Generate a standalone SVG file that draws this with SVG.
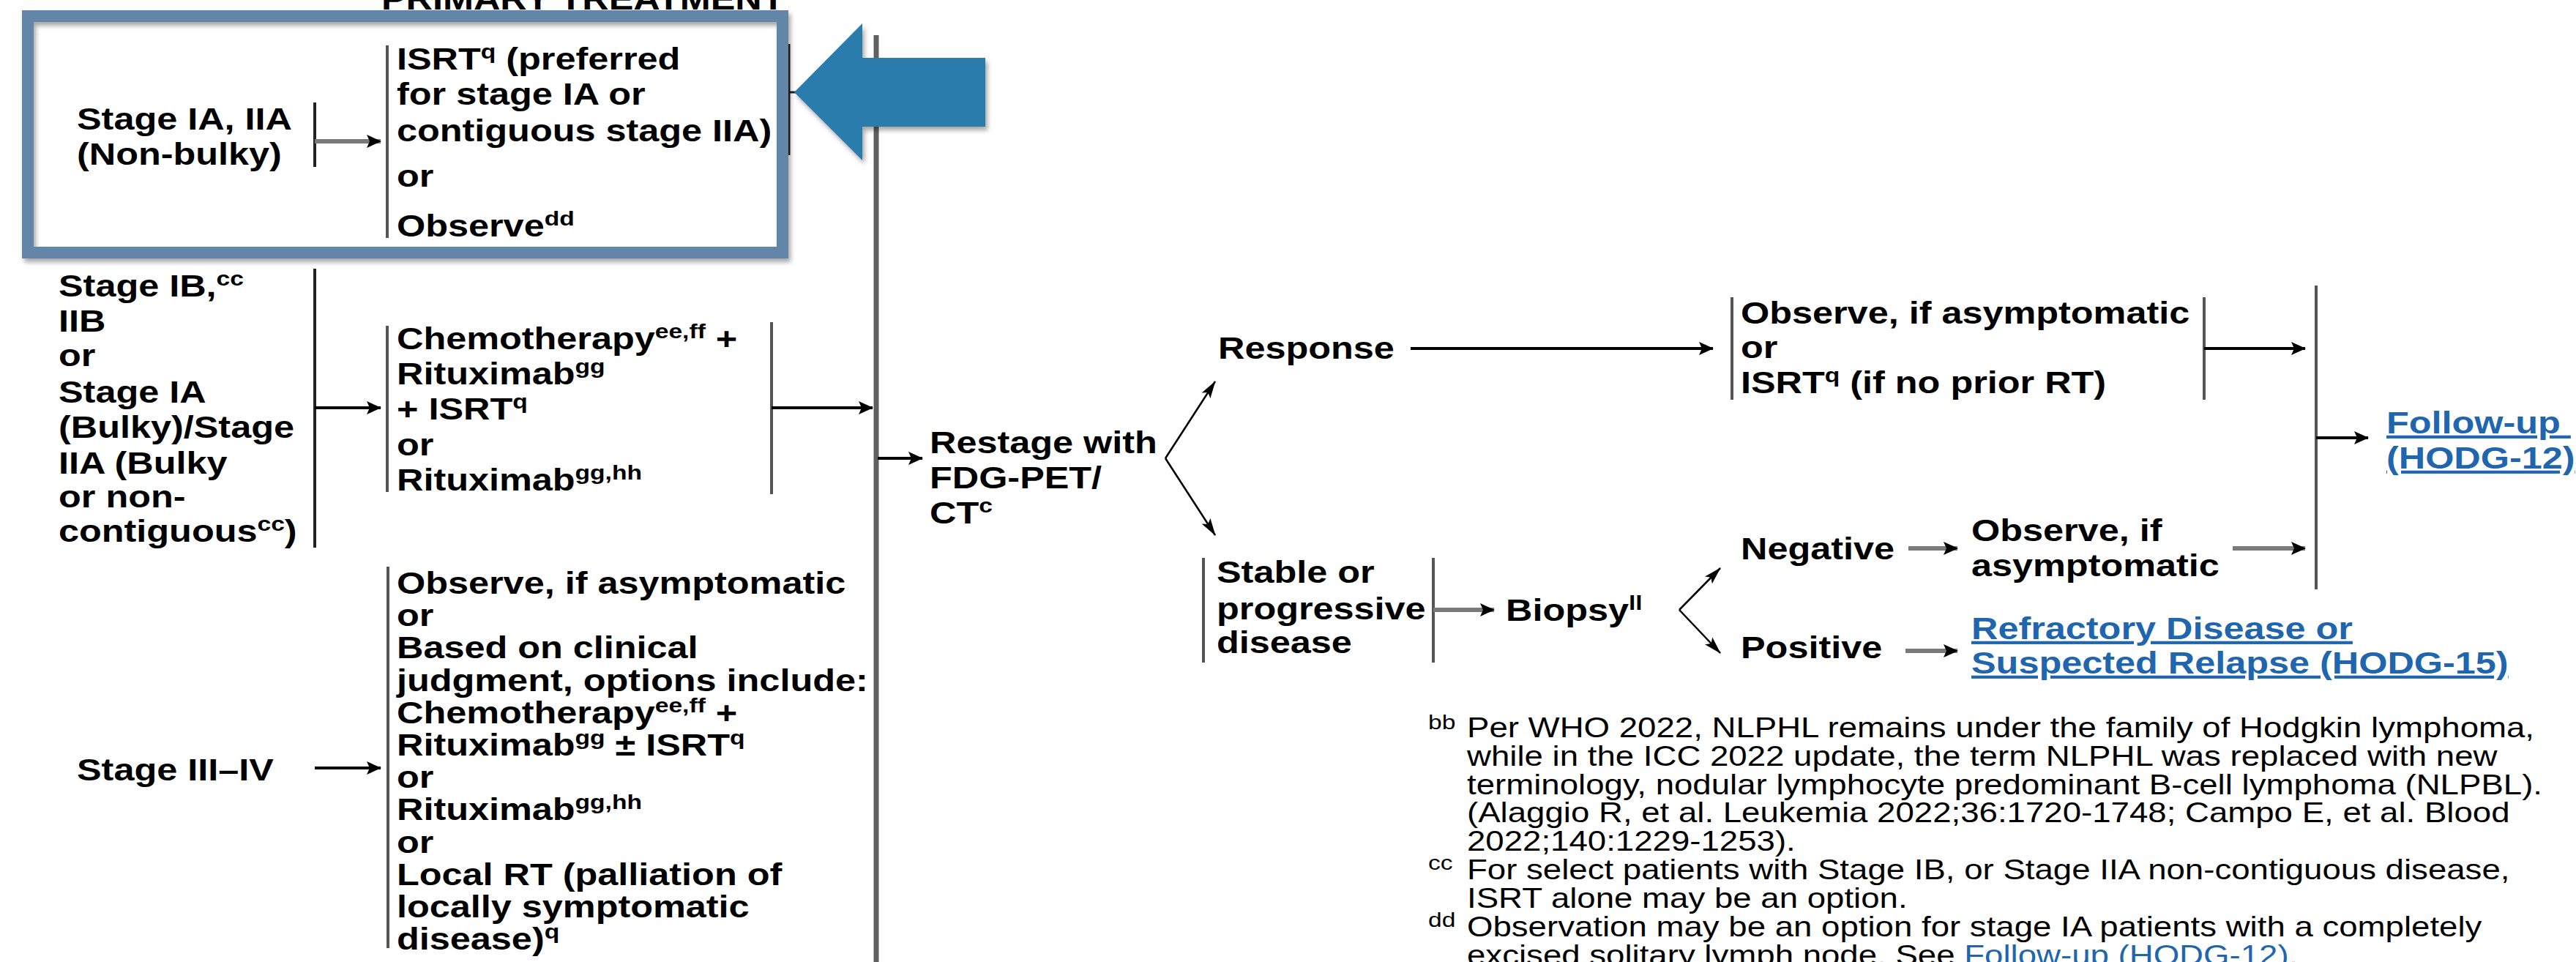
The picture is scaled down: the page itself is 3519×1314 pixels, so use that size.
<svg xmlns="http://www.w3.org/2000/svg" width="3519" height="1314" viewBox="0 0 3519 1314">
<style>
.t{font-family:"Liberation Sans",Arial,sans-serif;font-weight:bold;font-size:42px;fill:#000}
.f{font-family:"Liberation Sans",Arial,sans-serif;font-size:38px;fill:#000}
.s{font-size:28px}
.fs{font-size:28px}
.link{fill:#1F66AE;text-decoration:underline}
.bar{stroke:#555;stroke-width:4;fill:none}
.dbar{stroke:#222;stroke-width:4;fill:none}
.k{stroke:#000;stroke-width:4;fill:none;marker-end:url(#ah)}
.g{stroke:#7a7a7a;stroke-width:6;fill:none;marker-end:url(#ah)}
.thin{stroke:#000;stroke-width:2.5;fill:none;marker-end:url(#ahn)}
</style>
<defs>
<marker id="ah" markerUnits="userSpaceOnUse" markerWidth="20" markerHeight="18" refX="19" refY="9" orient="auto"><path d="M0,0 L20,9 L0,18 L4,9 Z" fill="#000"/></marker>
<marker id="ahn" markerUnits="userSpaceOnUse" markerWidth="24" markerHeight="14" refX="23" refY="7" orient="auto"><path d="M0,0 L24,7 L0,14 L5,7 Z" fill="#000"/></marker>
<filter id="sh" x="-5%" y="-5%" width="110%" height="115%"><feDropShadow dx="3" dy="5" stdDeviation="3" flood-color="#000" flood-opacity="0.35"/></filter>
</defs>
<rect width="3519" height="1314" fill="#fff"/>

<g id="header"><text class="t" transform="translate(521,13) scale(1.2,1)">PRIMARY TREATMENT</text></g>

<g id="connectors">
<path class="dbar" d="M430,140 V228"/>
<path class="g" d="M430,193 H520"/>
<path class="bar" d="M529,62 V325"/>
<path class="dbar" d="M1078,60 V212 M1078,126 H1092" style="stroke-width:3"/>
<path d="M1197,48 V1314" stroke="#606060" stroke-width="7" fill="none"/>
<path class="dbar" d="M430,367 V748"/>
<path class="k" d="M430,557 H520"/>
<path class="bar" d="M529,445 V672"/>
<path class="bar" d="M1054,440 V675"/>
<path class="k" d="M1054,557 H1192"/>
<path class="k" d="M430,1049 H520"/>
<path class="bar" d="M530,774 V1295"/>
<path class="k" d="M1199,626 H1260"/>
<path class="thin" d="M1592,626 L1660,521"/>
<path class="thin" d="M1592,626 L1660,731"/>
<path class="k" d="M1927,476 H2340"/>
<path class="bar" d="M2366,406 V546"/>
<path class="bar" d="M3011,406 V546"/>
<path class="k" d="M3011,476 H3149"/>
<path class="bar" d="M3164,390 V805"/>
<path class="k" d="M3164,598 H3235"/>
<path class="bar" d="M1644,762 V905"/>
<path class="bar" d="M1958,762 V905"/>
<path class="g" d="M1958,833 H2041"/>
<path class="thin" d="M2294,833 L2350,776"/>
<path class="thin" d="M2294,833 L2350,892"/>
<path class="g" d="M2607,749 H2674"/>
<path class="g" d="M3050,749 H3149"/>
<path class="g" d="M2603,889 H2674"/>
</g>

<g id="stage-ia-iia"><text class="t" transform="translate(105,177) scale(1.2,1)"><tspan x="0" y="0">Stage IA, IIA</tspan><tspan x="0" y="48">(Non-bulky)</tspan></text></g>
<g id="opt-ia"><text class="t" transform="translate(542,95) scale(1.2,1)"><tspan x="0" y="0">ISRT</tspan><tspan class="s" dy="-15">q</tspan><tspan dy="15"> (preferred</tspan><tspan x="0" y="48">for stage IA or</tspan><tspan x="0" y="98">contiguous stage IIA)</tspan><tspan x="0" y="160">or</tspan><tspan x="0" y="228">Observe</tspan><tspan class="s" dy="-15">dd</tspan></text></g>

<g id="stage-ib"><text class="t" transform="translate(80,405) scale(1.2,1)"><tspan x="0" y="0">Stage IB,</tspan><tspan class="s" dy="-15">cc</tspan><tspan x="0" y="48">IIB</tspan><tspan x="0" y="95">or</tspan><tspan x="0" y="145">Stage IA</tspan><tspan x="0" y="193">(Bulky)/Stage</tspan><tspan x="0" y="242">IIA (Bulky</tspan><tspan x="0" y="288">or non-</tspan><tspan x="0" y="335">contiguous</tspan><tspan class="s" dy="-15">cc</tspan><tspan dy="15">)</tspan></text></g>
<g id="opt-ib"><text class="t" transform="translate(542,477) scale(1.2,1)"><tspan x="0" y="0">Chemotherapy</tspan><tspan class="s" dy="-15">ee,ff</tspan><tspan dy="15"> +</tspan><tspan x="0" y="48">Rituximab</tspan><tspan class="s" dy="-15">gg</tspan><tspan x="0" y="96">+ ISRT</tspan><tspan class="s" dy="-15">q</tspan><tspan x="0" y="145">or</tspan><tspan x="0" y="193">Rituximab</tspan><tspan class="s" dy="-15">gg,hh</tspan></text></g>

<g id="stage-iii-iv"><text class="t" transform="translate(105,1066) scale(1.2,1)">Stage III–IV</text></g>
<g id="opt-iii"><text class="t" transform="translate(542,811) scale(1.2,1)"><tspan x="0" y="0">Observe, if asymptomatic</tspan><tspan x="0" y="44">or</tspan><tspan x="0" y="88">Based on clinical</tspan><tspan x="0" y="133">judgment, options include:</tspan><tspan x="0" y="177">Chemotherapy</tspan><tspan class="s" dy="-15">ee,ff</tspan><tspan dy="15"> +</tspan><tspan x="0" y="221">Rituximab</tspan><tspan class="s" dy="-15">gg</tspan><tspan dy="15"> ± ISRT</tspan><tspan class="s" dy="-15">q</tspan><tspan x="0" y="265">or</tspan><tspan x="0" y="309">Rituximab</tspan><tspan class="s" dy="-15">gg,hh</tspan><tspan x="0" y="354">or</tspan><tspan x="0" y="398">Local RT (palliation of</tspan><tspan x="0" y="442">locally symptomatic</tspan><tspan x="0" y="486">disease)</tspan><tspan class="s" dy="-15">q</tspan></text></g>

<g id="restage"><text class="t" transform="translate(1270,619) scale(1.2,1)"><tspan x="0" y="0">Restage with</tspan><tspan x="0" y="48">FDG-PET/</tspan><tspan x="0" y="96">CT</tspan><tspan class="s" dy="-15">c</tspan></text></g>
<g id="response"><text class="t" transform="translate(1664,490) scale(1.2,1)">Response</text></g>
<g id="resp-opt"><text class="t" transform="translate(2378,442) scale(1.2,1)"><tspan x="0" y="0">Observe, if asymptomatic</tspan><tspan x="0" y="47">or</tspan><tspan x="0" y="95">ISRT</tspan><tspan class="s" dy="-15">q</tspan><tspan dy="15"> (if no prior RT)</tspan></text></g>
<g id="followup"><text class="t link" transform="translate(3260,592) scale(1.2,1)"><tspan x="0" y="0">Follow-up </tspan><tspan x="0" y="48">(HODG-12)</tspan></text></g>
<g id="stable"><text class="t" transform="translate(1662,796) scale(1.2,1)"><tspan x="0" y="0">Stable or</tspan><tspan x="0" y="50">progressive</tspan><tspan x="0" y="96">disease</tspan></text></g>
<g id="biopsy"><text class="t" transform="translate(2057,848) scale(1.2,1)">Biopsy<tspan class="s" dy="-15">ll</tspan></text></g>
<g id="negative"><text class="t" transform="translate(2378,764) scale(1.2,1)">Negative</text></g>
<g id="neg-observe"><text class="t" transform="translate(2693,739) scale(1.2,1)"><tspan x="0" y="0">Observe, if</tspan><tspan x="0" y="48">asymptomatic</tspan></text></g>
<g id="positive"><text class="t" transform="translate(2378,899) scale(1.2,1)">Positive</text></g>
<g id="refractory"><text class="t link" transform="translate(2693,873) scale(1.2,1)"><tspan x="0" y="0">Refractory Disease or</tspan><tspan x="0" y="47">Suspected Relapse (HODG-15)</tspan></text></g>

<g id="footnotes">
<text class="f fs" transform="translate(1951,996) scale(1.2,1)">bb</text>
<text class="f fs" transform="translate(1951,1188) scale(1.2,1)">cc</text>
<text class="f fs" transform="translate(1951,1266) scale(1.2,1)">dd</text>
<text class="f" transform="translate(2004,1007) scale(1.2,1)"><tspan x="0" y="0">Per WHO 2022, NLPHL remains under the family of Hodgkin lymphoma,</tspan><tspan x="0" y="39">while in the ICC 2022 update, the term NLPHL was replaced with new</tspan><tspan x="0" y="78">terminology, nodular lymphocyte predominant B-cell lymphoma (NLPBL).</tspan><tspan x="0" y="116">(Alaggio R, et al. Leukemia 2022;36:1720-1748; Campo E, et al. Blood</tspan><tspan x="0" y="155">2022;140:1229-1253).</tspan><tspan x="0" y="194">For select patients with Stage IB, or Stage IIA non-contiguous disease,</tspan><tspan x="0" y="233">ISRT alone may be an option.</tspan><tspan x="0" y="272">Observation may be an option for stage IA patients with a completely</tspan><tspan x="0" y="311">excised solitary lymph node. See </tspan><tspan fill="#1F66AE">Follow-up (HODG-12)</tspan><tspan>.</tspan></text>
</g>

<g id="highlight-box"><rect x="38" y="22" width="1031" height="323" fill="none" stroke="#6485A8" stroke-width="16" filter="url(#sh)"/></g>
<g id="highlight-arrow"><polygon points="1085,126 1178,32 1178,79 1346,79 1346,173 1178,173 1178,219" fill="#2C7BAC" filter="url(#sh)"/></g>
</svg>
